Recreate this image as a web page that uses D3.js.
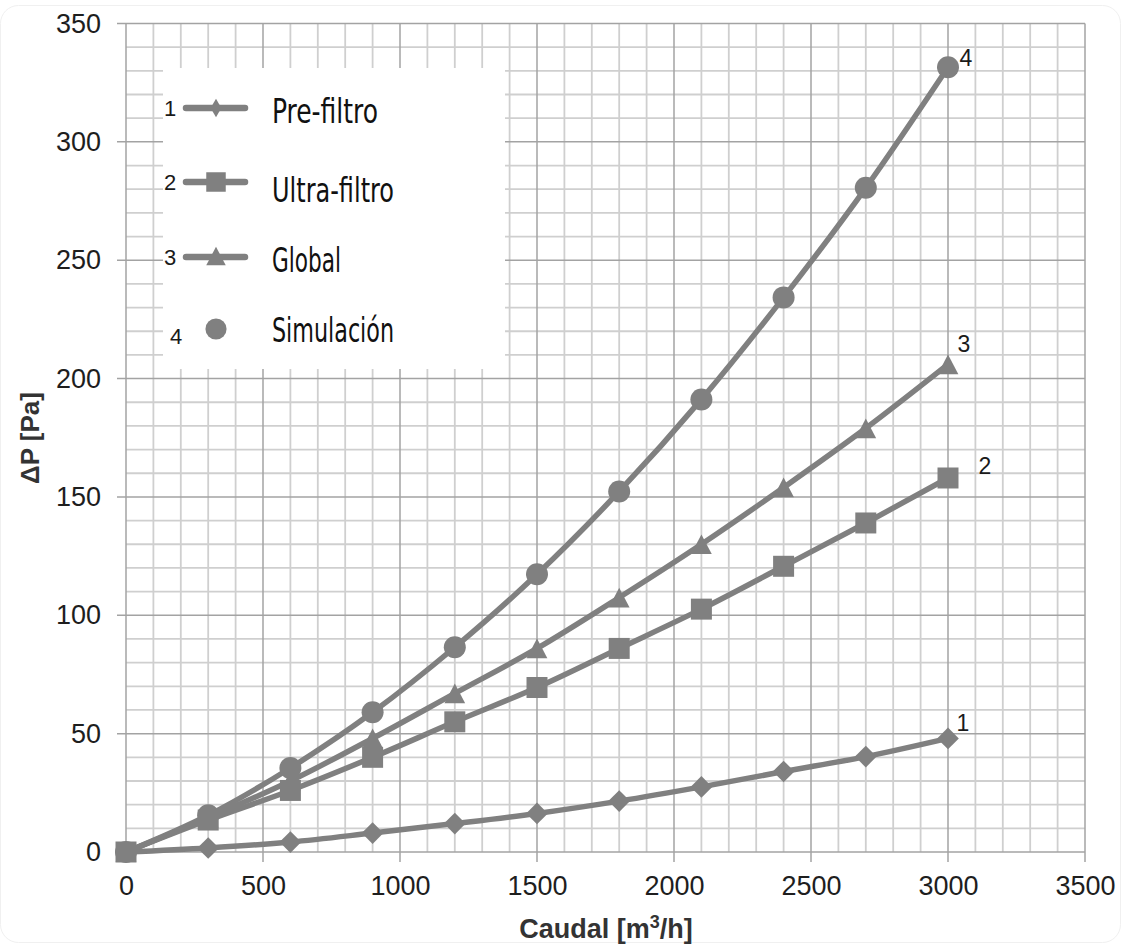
<!DOCTYPE html>
<html>
<head>
<meta charset="utf-8">
<script src="https://cdn.jsdelivr.net/npm/d3@7"></script>
<style>
  html, body { margin: 0; padding: 0; background: #fff; }
  svg { display: block; }
</style>
</head>
<body>
<svg id="chart" width="1128" height="947"></svg>
<script>
// Caudal (m3/h) and pressure drop (Pa) for each filter stage
const caudal = [0, 300, 600, 900, 1200, 1500, 1800, 2100, 2400, 2700, 3000];
const preFiltro = [0, 1.7, 4.2, 8, 12, 16.3, 21.5, 27.5, 34, 40.3, 48];
const ultraFiltro = [0, 13.5, 26, 40, 55, 69.5, 86, 102.6, 120.7, 139, 158];
const globalTotal = [0, 14.5, 30, 48, 67, 86, 107.5, 130, 154, 179, 206];
const simulacion = [0, 15.5, 35.5, 59, 86.5, 117.3, 152.3, 191.2, 234.3, 280.6, 331.5];

const seriesNames = ["Pre-filtro", "Ultra-filtro", "Global", "Simulación"];
const seriesTags = ["1", "2", "3", "4"];
const xTicks = [0, 500, 1000, 1500, 2000, 2500, 3000, 3500];
const yTicks = [0, 50, 100, 150, 200, 250, 300, 350];

(function draw() {
const svg = d3.select("#chart");
const W = 1128, H = 947;
const plotL = 126, plotR = 1085, plotT = 23.5, plotB = 852;

const x = d3.scaleLinear().domain([0, 3500]).range([plotL, plotR]);
const y = d3.scaleLinear().domain([0, 350]).range([plotB, plotT]);

const grey = "#808080";
const sans = "Liberation Sans, Arial, sans-serif";

// faint outer frame
svg.append("rect").attr("x", 0.5).attr("y", 5.5).attr("width", W - 8).attr("height", H - 10)
  .attr("rx", 18).attr("fill", "none").attr("stroke", "#f0f0f0");

// minor grid
const g = svg.append("g");
d3.range(0, 3501, 100).forEach(v => {
  if (v % 500 === 0) return;
  g.append("line").attr("x1", x(v)).attr("x2", x(v)).attr("y1", plotT).attr("y2", plotB)
    .attr("stroke", "#cfcfcf").attr("stroke-width", 1.8);
});
d3.range(0, 351, 10).forEach(v => {
  if (v % 50 === 0) return;
  g.append("line").attr("x1", plotL).attr("x2", plotR).attr("y1", y(v)).attr("y2", y(v))
    .attr("stroke", "#cfcfcf").attr("stroke-width", 1.8);
});

// major grid with outside ticks
xTicks.forEach(v => {
  g.append("line").attr("x1", x(v)).attr("x2", x(v)).attr("y1", plotT).attr("y2", plotB + 10)
    .attr("stroke", "#a3a3a3").attr("stroke-width", 1.5);
});
yTicks.forEach(v => {
  g.append("line").attr("x1", plotL - 9).attr("x2", plotR).attr("y1", y(v)).attr("y2", y(v))
    .attr("stroke", "#a3a3a3").attr("stroke-width", 1.5);
});

// tick labels from d3 axis generators
const xAxis = d3.axisBottom(x).tickValues(xTicks).tickFormat(d3.format("d")).tickSize(0).tickPadding(24);
const yAxis = d3.axisLeft(y).tickValues(yTicks).tickFormat(d3.format("d")).tickSize(0).tickPadding(25);
const xa = svg.append("g").attr("transform", `translate(0,${plotB})`).call(xAxis);
const ya = svg.append("g").attr("transform", `translate(${plotL},0)`).call(yAxis);
[xa, ya].forEach(a => {
  a.select(".domain").remove();
  a.selectAll("text").attr("font-family", sans)
    .attr("font-size", 27).attr("fill", "#1e1e1e");
});

// axis titles
svg.append("text").attr("x", 606).attr("y", 938).attr("text-anchor", "middle")
  .attr("font-family", sans).attr("font-weight", "bold")
  .attr("font-size", 27).attr("fill", "#333")
  .html('Caudal [m<tspan dy="-10" font-size="18">3</tspan><tspan dy="10">/h]</tspan>');
svg.append("text").attr("transform", "translate(39,438) rotate(-90)").attr("text-anchor", "middle")
  .attr("font-family", sans).attr("font-weight", "bold")
  .attr("font-size", 26).attr("fill", "#333").text("ΔP [Pa]");

// legend box
const lg = svg.append("g");
lg.append("rect").attr("x", 163).attr("y", 68).attr("width", 342).attr("height", 301).attr("fill", "#fff");

// marker shapes
const diamond = { draw(ctx, size) { const r = Math.sqrt(size) / 2; ctx.moveTo(0, -r); ctx.lineTo(r, 0); ctx.lineTo(0, r); ctx.lineTo(-r, 0); ctx.closePath(); } };
const tri = { draw(ctx, size) { const w = Math.sqrt(size), h = w * 0.95; ctx.moveTo(0, -h / 2); ctx.lineTo(w / 2, h / 2); ctx.lineTo(-w / 2, h / 2); ctx.closePath(); } };

const allSeries = [preFiltro, ultraFiltro, globalTotal, simulacion];
const symbols = [diamond, d3.symbolSquare, tri, d3.symbolCircle];
const symSizes = [470, 441, 430, 380];

const line = d3.line().x((d, i) => x(caudal[i])).y(d => y(d)).curve(d3.curveMonotoneX);

allSeries.forEach((vals) => {
  svg.append("path").datum(vals).attr("d", line).attr("fill", "none")
    .attr("stroke", grey).attr("stroke-width", 5.5).attr("stroke-linejoin", "round");
});
allSeries.forEach((vals, s) => {
  const sym = d3.symbol().type(symbols[s]).size(symSizes[s]);
  svg.append("g").selectAll("path").data(vals).join("path")
    .attr("transform", (d, i) => `translate(${x(caudal[i])},${y(d)})`)
    .attr("d", sym).attr("fill", grey);
});

// end-of-curve tags
const tagPos = [[963, 723], [985, 466], [964, 344], [966, 58]];
allSeries.forEach((vals, s) => {
  svg.append("text").attr("x", tagPos[s][0]).attr("y", tagPos[s][1] + 8)
    .attr("text-anchor", "middle").attr("font-family", sans)
    .attr("font-size", 23).attr("fill", "#1a1a1a").text(seriesTags[s]);
});

// legend entries
const rowY = [108, 182, 257, 329];
const textY = [123, 202, 272, 342];
const textW = [106, 122, 69, 122];
const legSymbols = [d3.symbolDiamond, d3.symbolSquare, tri, d3.symbolCircle];
const legSizes = [100, 380, 380, 350];
seriesNames.forEach((name, s) => {
  lg.append("text").attr("x", s === 3 ? 176 : 170).attr("y", rowY[s] + (s === 3 ? 15 : 8))
    .attr("text-anchor", "middle").attr("font-family", sans)
    .attr("font-size", 22).attr("fill", "#1a1a1a").text(seriesTags[s]);
  if (s < 3) {
    lg.append("line").attr("x1", 186).attr("x2", 245).attr("y1", rowY[s]).attr("y2", rowY[s])
      .attr("stroke", grey).attr("stroke-width", 6.5).attr("stroke-linecap", "round");
  }
  lg.append("path").attr("transform", `translate(216,${rowY[s] + (s === 2 ? -1 : 0)})`)
    .attr("d", d3.symbol().type(legSymbols[s]).size(legSizes[s])()).attr("fill", grey);
  lg.append("text").attr("x", 272).attr("y", textY[s])
    .attr("font-family", "DejaVu Sans Condensed, DejaVu Sans, sans-serif")
    .attr("font-stretch", "condensed")
    .attr("font-size", 34).attr("fill", "#111")
    .attr("textLength", textW[s]).attr("lengthAdjust", "spacingAndGlyphs")
    .text(name);
});
})();
</script>
</body>
</html>
